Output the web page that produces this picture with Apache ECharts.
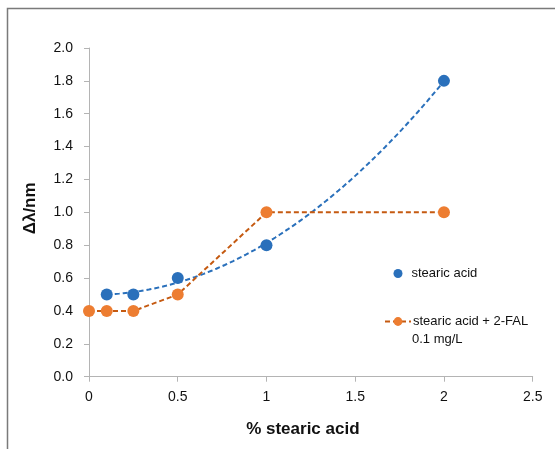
<!DOCTYPE html>
<html>
<head>
<meta charset="utf-8">
<style>
  html, body { margin: 0; padding: 0; background: #fff; }
  #chart { width: 555px; height: 449px; }
</style>
<script src="https://cdn.jsdelivr.net/npm/echarts@6/dist/echarts.min.js"></script>
</head>
<body>
<div id="chart"></div>
<script>
// Stearic acid content (%) and measured wavelength shift (nm)
const stearicX = [0.1, 0.25, 0.5, 1, 2];
const stearicY = [0.5, 0.5, 0.6, 0.8, 1.8];

const falX = [0, 0.1, 0.25, 0.5, 1, 2];
const falY = [0.4, 0.4, 0.4, 0.5, 1.0, 1.0];

const xTicks = [0, 0.5, 1, 1.5, 2, 2.5];
const yTicks = [0, 0.2, 0.4, 0.6, 0.8, 1.0, 1.2, 1.4, 1.6, 1.8, 2.0];

const seriesNames = ['stearic acid', 'stearic acid + 2-FAL'];
const seriesNote = '0.1 mg/L';

const blue = '#2a70bb';
const orangeMark = '#ed7d31';
const orangeLine = '#c55a11';
const labelFont = "'Liberation Sans', Arial, sans-serif";
const titleFont = "'Liberation Sans Narrow', 'Liberation Sans', Arial, sans-serif";

// Second-order least-squares trendline for the stearic acid measurements
function polyFit2(xs, ys) {
  let s = [0, 0, 0, 0, 0], t = [0, 0, 0];
  xs.forEach((x, i) => {
    for (let k = 0; k < 5; k++) s[k] += Math.pow(x, k);
    for (let k = 0; k < 3; k++) t[k] += Math.pow(x, k) * ys[i];
  });
  const m = [[s[0], s[1], s[2], t[0]], [s[1], s[2], s[3], t[1]], [s[2], s[3], s[4], t[2]]];
  for (let c = 0; c < 3; c++) {
    for (let r = c + 1; r < 3; r++) {
      const f = m[r][c] / m[c][c];
      for (let k = c; k < 4; k++) m[r][k] -= f * m[c][k];
    }
  }
  const coef = [0, 0, 0];
  for (let r = 2; r >= 0; r--) {
    let v = m[r][3];
    for (let k = r + 1; k < 3; k++) v -= m[r][k] * coef[k];
    coef[r] = v / m[r][r];
  }
  return coef;
}
const coef = polyFit2(stearicX, stearicY);
const xLo = Math.min(...stearicX), xHi = Math.max(...stearicX);
const trend = [];
for (let i = 0; i <= 80; i++) {
  const x = xLo + (xHi - xLo) * i / 80;
  trend.push([x, coef[0] + coef[1] * x + coef[2] * x * x]);
}

const chart = echarts.init(document.getElementById('chart'), null, { renderer: 'canvas' });
chart.setOption({
  animation: false,
  backgroundColor: '#fff',
  grid: { left: 89, top: 48, right: 22.3, bottom: 72.3, containLabel: false },
  xAxis: {
    type: 'value', min: xTicks[0], max: xTicks[xTicks.length - 1], interval: 0.5,
    name: '% stearic acid', nameLocation: 'middle', nameGap: 44,
    nameTextStyle: { fontFamily: titleFont, fontWeight: 'bold', fontSize: 17, color: '#111', padding: [0, 16, 0, 0] },
    axisLine: { show: true, onZero: false, lineStyle: { color: '#b4b4b4', width: 1 } },
    axisTick: { show: true, length: 5, lineStyle: { color: '#b4b4b4' } },
    axisLabel: { margin: 13, fontFamily: labelFont, fontSize: 14, color: '#111',
      formatter: v => String(v) },
    splitLine: { show: false }
  },
  yAxis: {
    type: 'value', min: yTicks[0], max: yTicks[yTicks.length - 1], interval: 0.2,
    name: 'Δλ/nm', nameLocation: 'middle', nameGap: 50, nameRotate: 90,
    nameTextStyle: { fontFamily: titleFont, fontWeight: 'bold', fontSize: 17, color: '#111', padding: [0, 0, 0, 8] },
    axisLine: { show: true, onZero: false, lineStyle: { color: '#b4b4b4', width: 1 } },
    axisTick: { show: true, length: 5, lineStyle: { color: '#b4b4b4' } },
    axisLabel: { margin: 16, fontFamily: labelFont, fontSize: 14, color: '#111',
      formatter: v => v.toFixed(1) },
    splitLine: { show: false }
  },
  legend: [
    {
      orient: 'vertical', left: 388.5, top: 262, itemWidth: 9, itemHeight: 9, itemGap: 6,
      data: [{ name: seriesNames[0], icon: 'circle' }],
      textStyle: { fontFamily: labelFont, fontSize: 13, color: '#111', padding: [0, 0, 0, 4] }
    },
    {
      orient: 'vertical', left: 379, top: 310, itemWidth: 26, itemHeight: 11,
      data: [seriesNames[1]],
      textStyle: { fontFamily: labelFont, fontSize: 13, color: '#111', padding: [0, 0, 0, -3] }
    }
  ],
  graphic: [
    { type: 'rect', silent: true, shape: { x: 7.5, y: 8.5, width: 600, height: 500 },
      style: { fill: 'none', stroke: '#7a7a7a', lineWidth: 1.5 }, z: 100 },
    { type: 'text', left: 412, top: 333, silent: true,
      style: { text: seriesNote, font: "13px 'Liberation Sans', Arial, sans-serif", fill: '#111' } }
  ],
  series: [
    {
      name: 'trend', type: 'line', data: trend, showSymbol: false, smooth: false,
      lineStyle: { color: blue, width: 2, type: [5, 3] }, z: 2, silent: true
    },
    {
      name: seriesNames[0], type: 'scatter',
      data: stearicX.map((x, i) => [x, stearicY[i]]),
      symbol: 'circle', symbolSize: 12, itemStyle: { color: blue, opacity: 1 }, z: 4
    },
    {
      name: seriesNames[1], type: 'line',
      data: falX.map((x, i) => [x, falY[i]]),
      symbol: 'circle', symbolSize: 12, showAllSymbol: true,
      itemStyle: { color: orangeMark, borderWidth: 0, opacity: 1 },
      lineStyle: { color: orangeLine, width: 2, type: [5, 3] }, z: 3
    }
  ]
});
</script>
</body>
</html>
